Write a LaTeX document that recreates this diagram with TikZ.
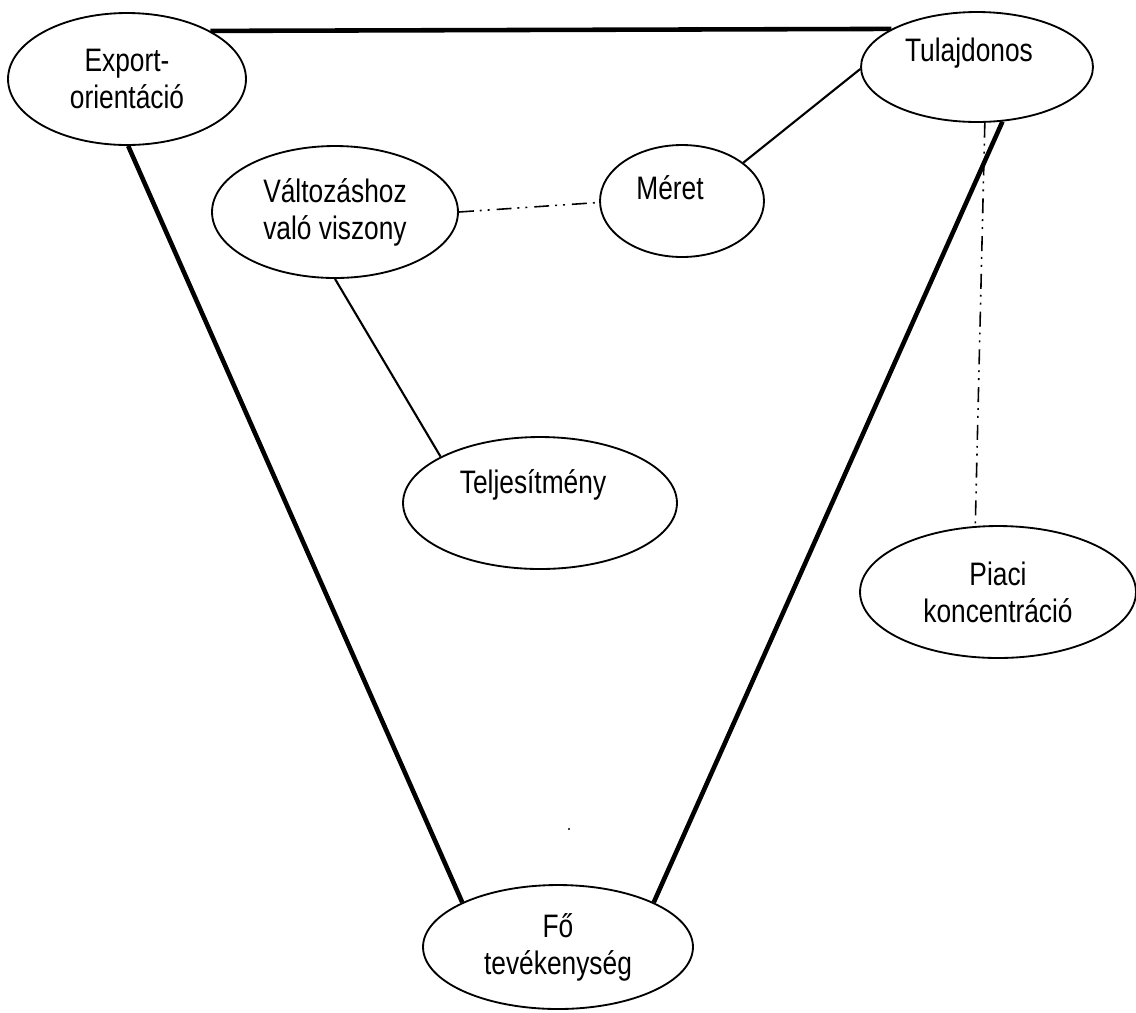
\documentclass[tikz,border=0pt]{standalone}
\usepackage{fontspec}
\setmainfont{Liberation Sans}[FakeStretch=0.81]
\usetikzlibrary{shapes.geometric}
\begin{document}
\begin{tikzpicture}[x=0.02cm, y=-0.02cm,
    oval/.style={draw, ellipse, line width=1.05pt, inner sep=0pt, align=center, font=\fontsize{18.5}{21}\selectfont},
    heavy/.style={line width=2.6pt},
    light/.style={line width=1.2pt},
    dashdot/.style={line width=0.9pt, dash pattern=on 8.5pt off 3.4pt on 1.1pt off 3.4pt on 1.1pt off 4pt}]
    \useasboundingbox (0,0) rectangle (1136,1012);
    \node [oval, minimum width=4.76cm, minimum height=2.64cm] (export) at (127,79) {Export-\\orientáció};
    \node [oval, minimum width=4.64cm, minimum height=2.2cm, text depth=0.69cm] (owner) at (977,67) {Tulajdonos\hspace*{0.32cm}};
    \node [oval, minimum width=3.28cm, minimum height=2.24cm, text depth=0.52cm] (meret) at (682,201) {Méret\hspace*{0.48cm}};
    \node [oval, minimum width=4.92cm, minimum height=2.64cm] (valtozas) at (335,212) {Változáshoz\\való viszony};
    \node [oval, minimum width=5.48cm, minimum height=2.64cm, text depth=0.85cm] (telj) at (540,503) {Teljesítmény\hspace*{0.28cm}};
    \node [oval, minimum width=5.52cm, minimum height=2.64cm] (piaci) at (998,592) {Piaci\\koncentráció};
    \node [oval, minimum width=5.4cm, minimum height=2.48cm] (fo) at (558,947) {Fő\\tevékenység};

    \draw [heavy] (export.30) -- (owner.156);
    \draw [heavy] (export.-89) -- (fo.155);
    \draw [heavy] (owner.-65) -- (fo.25);
    \draw [light] (owner.181) -- (meret.32);
    \draw [dashdot] (valtozas.0) -- (meret.181);
    \draw [light] (valtozas.-90) -- (telj.155);
    \draw [dashdot] (owner.-82) -- (piaci.109);
    \fill (569,829) circle (1.2);
\end{tikzpicture}
\end{document}
